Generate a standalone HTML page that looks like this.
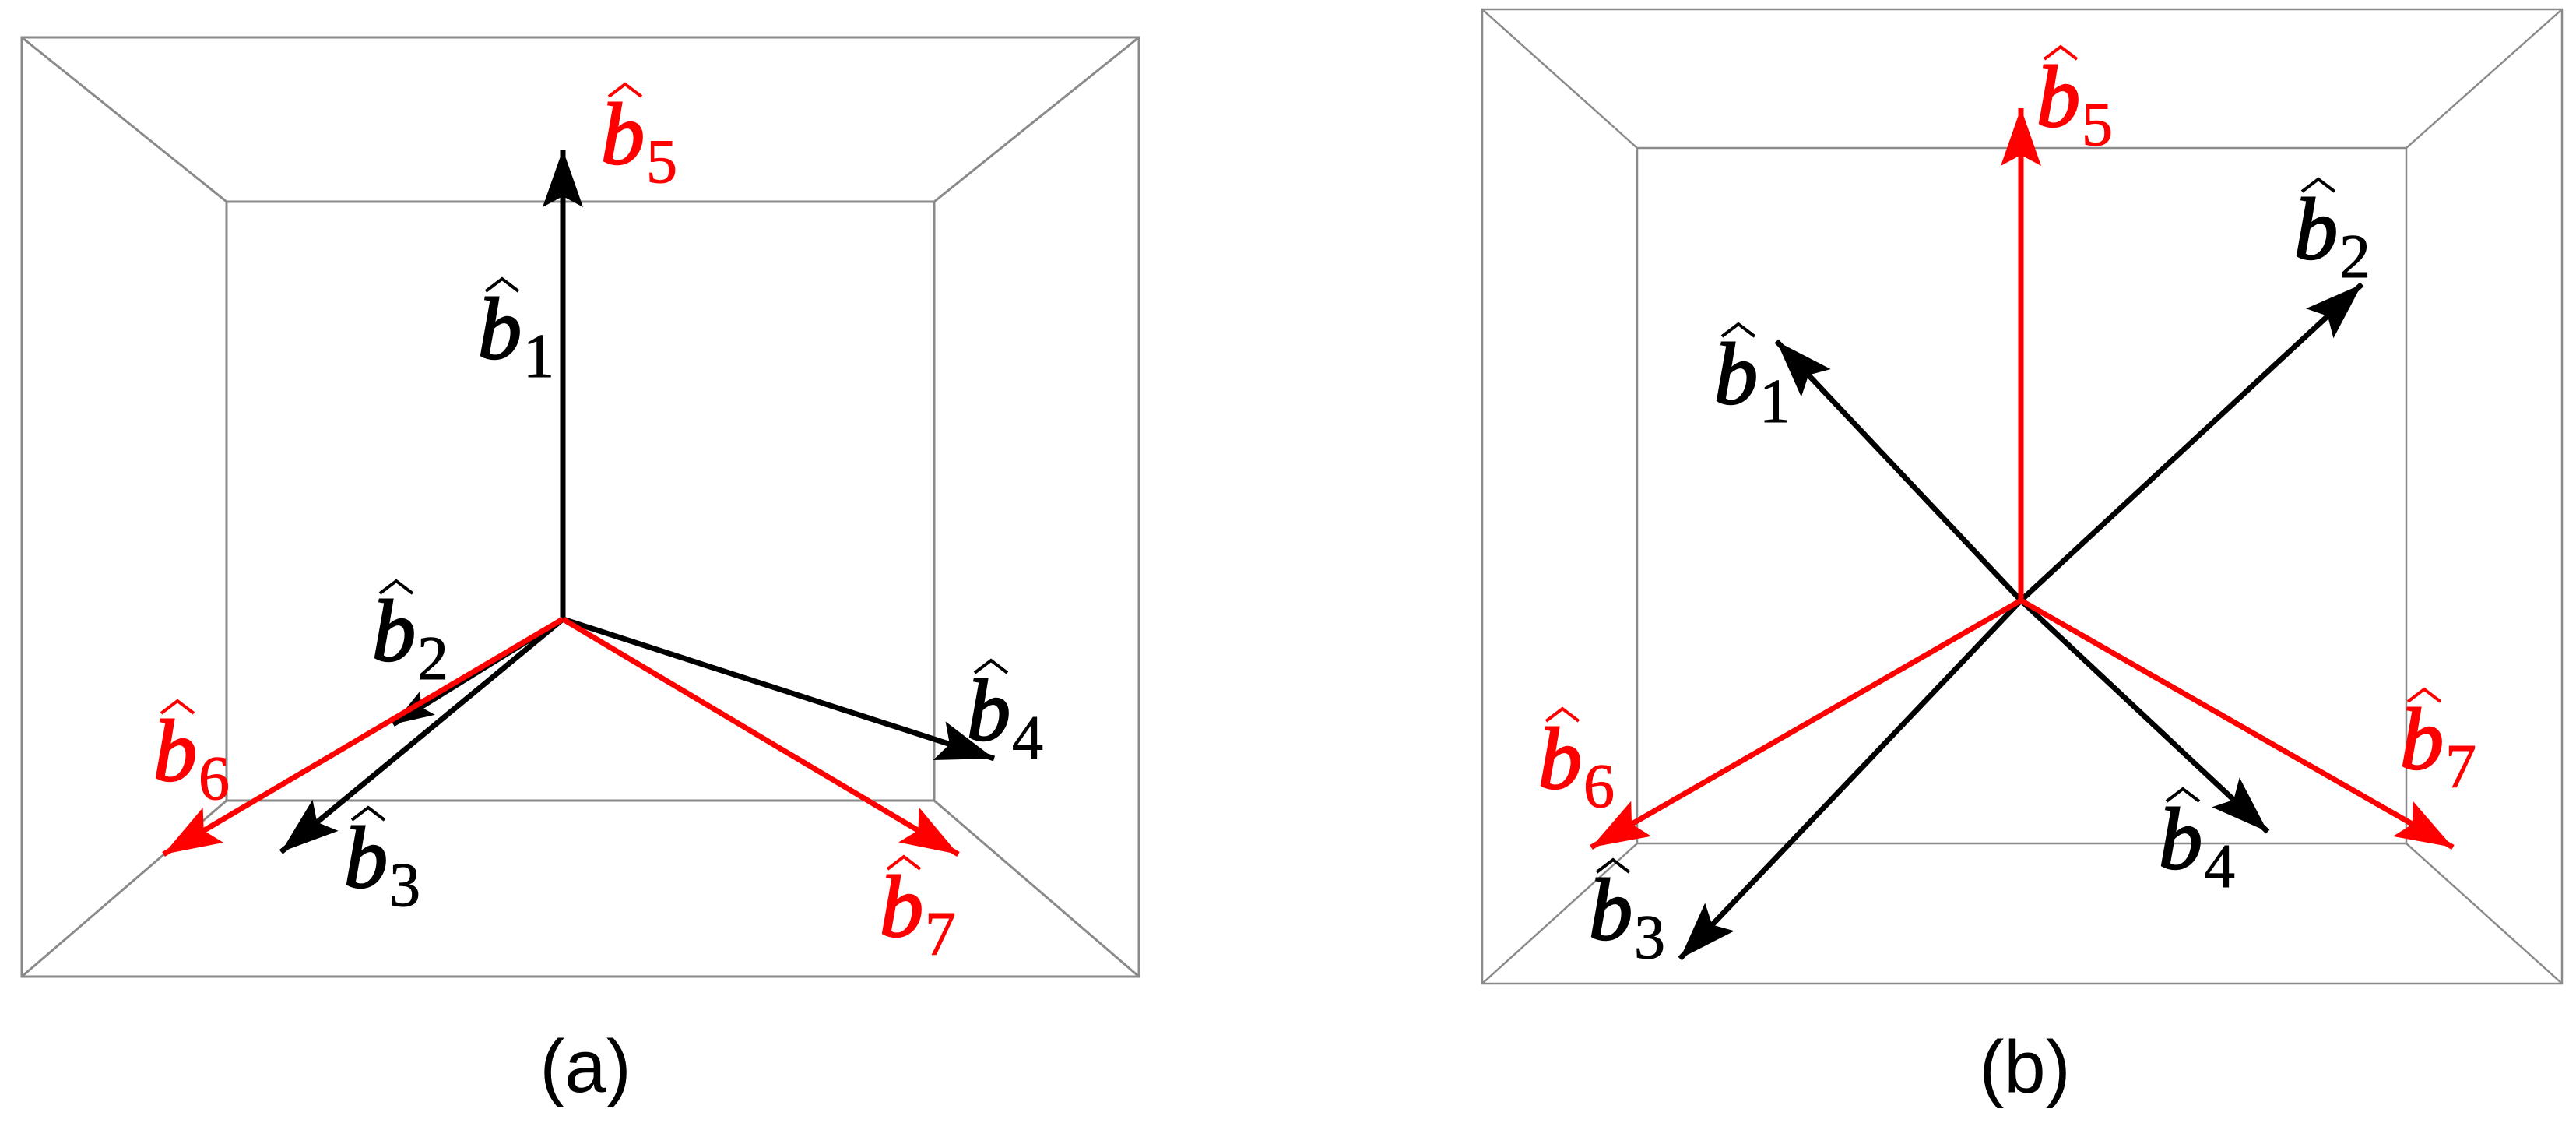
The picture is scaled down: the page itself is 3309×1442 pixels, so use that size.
<!DOCTYPE html>
<html><head><meta charset="utf-8"><style>
html,body{margin:0;padding:0;background:#fff;}
svg{display:block;}
.bl{font-family:"Liberation Serif",serif;font-style:italic;font-size:112px;stroke-width:2.5;}
.sub{font-family:"Liberation Serif",serif;font-size:80px;stroke-width:1;}
.cap{font-family:"Liberation Sans",sans-serif;font-size:96px;}
</style></head><body>
<svg width="3309" height="1442" viewBox="0 0 3309 1442" xmlns="http://www.w3.org/2000/svg">
<defs>
<marker id="hk" markerUnits="userSpaceOnUse" markerWidth="84" markerHeight="60" refX="76" refY="30" orient="auto" viewBox="0 0 84 60"><path d="M76,30 L2,4 L16,30 L2,56 Z" fill="#000"/></marker>
<marker id="hr" markerUnits="userSpaceOnUse" markerWidth="84" markerHeight="60" refX="76" refY="30" orient="auto" viewBox="0 0 84 60"><path d="M76,30 L2,4 L16,30 L2,56 Z" fill="#f00"/></marker>
<marker id="hs" markerUnits="userSpaceOnUse" markerWidth="60" markerHeight="44" refX="54" refY="22" orient="auto" viewBox="0 0 60 44"><path d="M54,22 L2,4 L12,22 L2,40 Z" fill="#000"/></marker>
</defs>
<g fill="none" stroke="#8a8a8a" stroke-width="3">
<rect x="28" y="48" width="1435" height="1206"/>
<rect x="291" y="259" width="909" height="769"/>
<line x1="28" y1="48" x2="291" y2="259"/><line x1="1463" y1="48" x2="1200" y2="259"/>
<line x1="28" y1="1254" x2="291" y2="1028"/><line x1="1463" y1="1254" x2="1200" y2="1028"/>
</g>
<g fill="none" stroke="#8a8a8a" stroke-width="2.5">
<rect x="1904" y="12" width="1387" height="1251"/>
<rect x="2103" y="190" width="988" height="893"/>
<line x1="1904" y1="12" x2="2103" y2="190"/><line x1="3291" y1="12" x2="3091" y2="190"/>
<line x1="1904" y1="1263" x2="2103" y2="1083"/><line x1="3291" y1="1263" x2="3091" y2="1083"/>
</g>
<g stroke-width="7" fill="none">
<line x1="723" y1="795" x2="723" y2="192" stroke="#000" marker-end="url(#hk)"/>
<line x1="723" y1="795" x2="361" y2="1094" stroke="#000" marker-end="url(#hk)"/>
<line x1="723" y1="795" x2="1277" y2="974" stroke="#000" marker-end="url(#hk)"/>
<line x1="723" y1="795" x2="1231" y2="1097" stroke="#f00" marker-end="url(#hr)"/>
<line x1="723" y1="795" x2="505" y2="930" stroke="#000" marker-end="url(#hs)"/>
<line x1="723" y1="795" x2="210" y2="1097" stroke="#f00" marker-end="url(#hr)"/>
<line x1="2596" y1="771" x2="3034" y2="365" stroke="#000" marker-end="url(#hk)"/>
<line x1="2596" y1="771" x2="2282" y2="438" stroke="#000" marker-end="url(#hk)"/>
<line x1="2596" y1="771" x2="2158" y2="1231" stroke="#000" marker-end="url(#hk)"/>
<line x1="2596" y1="771" x2="2913" y2="1068" stroke="#000" marker-end="url(#hk)"/>
<line x1="2596" y1="771" x2="2596" y2="139" stroke="#f00" marker-end="url(#hr)"/>
<line x1="2596" y1="771" x2="2044" y2="1088" stroke="#f00" marker-end="url(#hr)"/>
<line x1="2596" y1="771" x2="3151" y2="1088" stroke="#f00" marker-end="url(#hr)"/>
</g>
<g id="labels">
<g transform="translate(772,210)" fill="#f00" stroke="#f00"><text class="bl" x="0" y="0">b</text><polyline points="10,-86 31,-102 52,-86" fill="none" stroke-width="4"/><text class="sub" x="58" y="24">5</text></g>
<g transform="translate(614,460)" fill="#000" stroke="#000"><text class="bl" x="0" y="0">b</text><polyline points="10,-86 31,-102 52,-86" fill="none" stroke-width="4"/><text class="sub" x="58" y="24">1</text></g>
<g transform="translate(478,848)" fill="#000" stroke="#000"><text class="bl" x="0" y="0">b</text><polyline points="10,-86 31,-102 52,-86" fill="none" stroke-width="4"/><text class="sub" x="58" y="24">2</text></g>
<g transform="translate(197,1002)" fill="#f00" stroke="#f00"><text class="bl" x="0" y="0">b</text><polyline points="10,-86 31,-102 52,-86" fill="none" stroke-width="4"/><text class="sub" x="58" y="24">6</text></g>
<g transform="translate(442,1139)" fill="#000" stroke="#000"><text class="bl" x="0" y="0">b</text><polyline points="10,-86 31,-102 52,-86" fill="none" stroke-width="4"/><text class="sub" x="58" y="24">3</text></g>
<g transform="translate(1242,950)" fill="#000" stroke="#000"><text class="bl" x="0" y="0">b</text><polyline points="10,-86 31,-102 52,-86" fill="none" stroke-width="4"/><text class="sub" x="58" y="24">4</text></g>
<g transform="translate(1130,1202)" fill="#f00" stroke="#f00"><text class="bl" x="0" y="0">b</text><polyline points="10,-86 31,-102 52,-86" fill="none" stroke-width="4"/><text class="sub" x="58" y="24">7</text></g>

<g transform="translate(2616,162)" fill="#f00" stroke="#f00"><text class="bl" x="0" y="0">b</text><polyline points="10,-86 31,-102 52,-86" fill="none" stroke-width="4"/><text class="sub" x="58" y="24">5</text></g>
<g transform="translate(2947,332)" fill="#000" stroke="#000"><text class="bl" x="0" y="0">b</text><polyline points="10,-86 31,-102 52,-86" fill="none" stroke-width="4"/><text class="sub" x="58" y="24">2</text></g>
<g transform="translate(2202,518)" fill="#000" stroke="#000"><text class="bl" x="0" y="0">b</text><polyline points="10,-86 31,-102 52,-86" fill="none" stroke-width="4"/><text class="sub" x="58" y="24">1</text></g>
<g transform="translate(1976,1012)" fill="#f00" stroke="#f00"><text class="bl" x="0" y="0">b</text><polyline points="10,-86 31,-102 52,-86" fill="none" stroke-width="4"/><text class="sub" x="58" y="24">6</text></g>
<g transform="translate(2041,1206)" fill="#000" stroke="#000"><text class="bl" x="0" y="0">b</text><polyline points="10,-86 31,-102 52,-86" fill="none" stroke-width="4"/><text class="sub" x="58" y="24">3</text></g>
<g transform="translate(2773,1115)" fill="#000" stroke="#000"><text class="bl" x="0" y="0">b</text><polyline points="10,-86 31,-102 52,-86" fill="none" stroke-width="4"/><text class="sub" x="58" y="24">4</text></g>
<g transform="translate(3083,987)" fill="#f00" stroke="#f00"><text class="bl" x="0" y="0">b</text><polyline points="10,-86 31,-102 52,-86" fill="none" stroke-width="4"/><text class="sub" x="58" y="24">7</text></g>
</g>
<text class="cap" x="752" y="1402" text-anchor="middle">(a)</text>
<text class="cap" x="2601" y="1403" text-anchor="middle">(b)</text>
</svg>
</body></html>
